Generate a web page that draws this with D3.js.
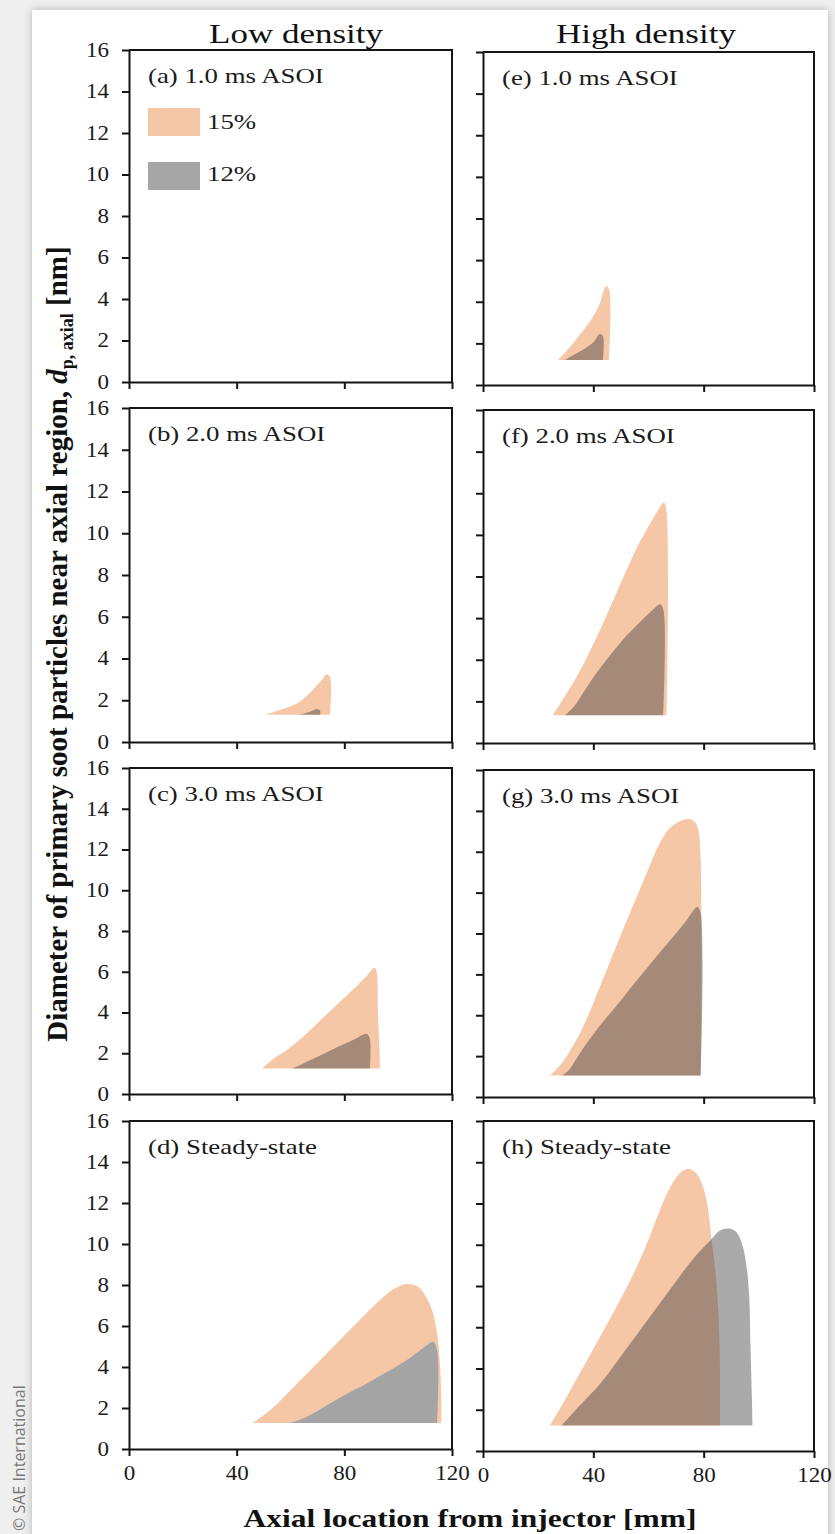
<!DOCTYPE html>
<html>
<head>
<meta charset="utf-8">
<script src="https://cdn.jsdelivr.net/npm/d3@7/dist/d3.min.js"></script>
<style>
  body { margin: 0; background: #efefef; }
  text { font-family: "Liberation Serif", "Times New Roman", serif; }
</style>
</head>
<body>
<svg id="chart" width="835" height="1534"></svg>
<script>
const xTicks = [0, 40, 80, 120]
const yTicks = [0, 2, 4, 6, 8, 10, 12, 14, 16]
const columnTitles = ["Low density", "High density"]
const panelLabels = ["(a) 1.0 ms ASOI", "(b) 2.0 ms ASOI", "(c) 3.0 ms ASOI", "(d) Steady-state",
                     "(e) 1.0 ms ASOI", "(f) 2.0 ms ASOI", "(g) 3.0 ms ASOI", "(h) Steady-state"]
const legendLabels = ["15%", "12%"]

// upper edge of each region, [axial mm, dp nm]; first/last point sit on the base
const lo1_15 = []
const lo1_12 = []
const lo2_15 = [[50.5, 1.3], [54, 1.45], [58, 1.62], [62.8, 1.87], [66, 2.2], [69, 2.6], [71.5, 2.95], [73.5, 3.25], [74.7, 3.1], [74.7, 1.3]]
const lo2_12 = [[62.8, 1.3], [65, 1.36], [67.5, 1.46], [69.8, 1.58], [71, 1.5], [71, 1.3]]
const lo3_15 = [[49.4, 1.25], [52, 1.55], [55, 1.85], [58, 2.1], [61, 2.4], [65, 2.85], [69, 3.35], [73, 3.85], [77, 4.35], [81, 4.85], [85, 5.35], [88, 5.75], [91.2, 6.2], [92, 6.0], [92.5, 4.0], [93.2, 1.6], [93.2, 1.25]]
const lo3_12 = [[60.5, 1.25], [64, 1.45], [68, 1.7], [72, 1.95], [75.8, 2.2], [80, 2.45], [84, 2.7], [88.4, 2.95], [89.5, 2.7], [89.5, 1.25]]
const lo4_15 = [[46, 1.27], [52, 1.85], [58, 2.6], [64, 3.4], [70, 4.2], [76, 5.0], [82, 5.8], [88, 6.6], [94, 7.35], [99, 7.85], [103, 8.05], [107, 7.95], [110, 7.5], [112.5, 6.8], [114.5, 5.6], [115.5, 4.2], [116, 2.5], [116, 1.27]]
const lo4_12 = [[59.8, 1.27], [64, 1.45], [68.5, 1.75], [75, 2.25], [81, 2.7], [87, 3.1], [93, 3.55], [99, 4.0], [105, 4.5], [110, 5.0], [113, 5.23], [114.5, 4.8], [114.5, 1.27]]

const hi1_15 = [[27.2, 1.2], [31, 1.75], [35, 2.4], [39, 3.1], [42, 3.8], [44.6, 4.75], [45.7, 4.6], [45.7, 1.2]]
const hi1_12 = [[29.7, 1.2], [33, 1.45], [37, 1.75], [40, 2.05], [42.4, 2.45], [43.5, 2.35], [43.5, 1.2]]
const hi2_15 = [[25.3, 1.33], [29, 2.1], [34, 3.2], [40, 4.75], [46, 6.5], [52, 8.3], [57, 9.7], [61.5, 10.75], [64, 11.3], [65.6, 11.55], [66.6, 11.0], [66.6, 1.33]]
const hi2_12 = [[29.7, 1.33], [33, 1.75], [36.5, 2.45], [40, 3.15], [46, 4.2], [52, 5.15], [58, 5.95], [62, 6.45], [64.2, 6.67], [65.4, 6.4], [65.4, 1.33]]
const hi3_15 = [[24.3, 1.05], [28, 1.55], [31.5, 2.25], [36, 3.35], [40, 4.6], [46, 6.6], [52, 8.6], [57, 10.2], [61, 11.5], [64, 12.4], [67, 13.05], [70, 13.4], [73, 13.58], [76, 13.55], [77.8, 13.2], [78.8, 12.0], [79, 1.05]]
const hi3_12 = [[28.5, 1.05], [31, 1.3], [34, 1.9], [38, 2.7], [42.4, 3.5], [48, 4.4], [53, 5.25], [58, 6.07], [63, 6.9], [68, 7.7], [73, 8.5], [77.7, 9.3], [78.9, 9.0], [78.9, 1.05]]
const hi4_15 = [[24.3, 1.24], [27, 1.85], [30, 2.55], [35, 3.75], [40, 4.95], [46, 6.4], [52, 7.9], [56, 9.0], [60, 10.25], [63, 11.3], [66.6, 12.45], [70, 13.25], [73, 13.62], [75.5, 13.65], [78, 13.35], [80, 12.7], [81.7, 11.65], [82.9, 10.2], [84, 9.0], [85, 7.5], [85.8, 5.0], [86, 1.24]]
const hi4_12 = [[28.5, 1.24], [35, 2.2], [42.4, 3.25], [50, 4.6], [59.4, 6.3], [66, 7.5], [72, 8.6], [78, 9.6], [82.3, 10.2], [85, 10.6], [87, 10.75], [89.6, 10.78], [92, 10.6], [94, 10.0], [95.5, 9.0], [96.5, 7.5], [97, 5.0], [97.5, 2.5], [97.7, 1.24]]

const panels = [
    { col: 0, row: 0, s15: lo1_15, s12: lo1_12 },
    { col: 0, row: 1, s15: lo2_15, s12: lo2_12 },
    { col: 0, row: 2, s15: lo3_15, s12: lo3_12 },
    { col: 0, row: 3, s15: lo4_15, s12: lo4_12, solidGray: true },
    { col: 1, row: 0, s15: hi1_15, s12: hi1_12 },
    { col: 1, row: 1, s15: hi2_15, s12: hi2_12 },
    { col: 1, row: 2, s15: hi3_15, s12: hi3_12 },
    { col: 1, row: 3, s15: hi4_15, s12: hi4_12 },
]

// layout
const colX = [[129, 452], [483, 814]]
const rowTop = [[50, 408, 768, 1121], [52, 410, 770, 1121]]
const rowBottom = [[382, 742, 1094, 1449], [385, 743, 1097, 1451]]

const peach = "#f6c7a7"
const grayLegend = "#a6a6a6"
const ink = "#151515"

const svg = d3.select("#chart")

// the source picture is a little wider than tall, so the lettering is stretched sideways
function stretch(sel, sx) {
    sel.each(function () {
        const t = d3.select(this)
        const x = +t.attr("x") || 0
        t.attr("x", x / sx).attr("transform", `scale(${sx},1)`)
    })
    return sel
}

// page frame with soft shadow
const defs = svg.append("defs")
const f = defs.append("filter").attr("id", "shadow").attr("x", "-5%").attr("y", "-5%").attr("width", "110%").attr("height", "110%")
f.append("feGaussianBlur").attr("in", "SourceAlpha").attr("stdDeviation", 4)
f.append("feComponentTransfer").append("feFuncA").attr("type", "linear").attr("slope", 0.25)
const fm = f.append("feMerge")
fm.append("feMergeNode")
fm.append("feMergeNode").attr("in", "SourceGraphic")

svg.append("rect").attr("width", 835).attr("height", 1534).attr("fill", "#efefef")
svg.append("rect").attr("x", 32).attr("y", 10).attr("width", 796).attr("height", 1540)
    .attr("fill", "#fff").attr("filter", "url(#shadow)")

panels.forEach((p, i) => {
    const x = d3.scaleLinear().domain([0, 120]).range(colX[p.col])
    const y = d3.scaleLinear().domain([0, 16]).range([rowBottom[p.col][p.row], rowTop[p.col][p.row]])
    const g = svg.append("g")

    const drawRegion = (pts, fill, opacity) => {
        if (!pts.length) return
        const base = pts[0][1]
        const area = d3.area()
            .x(d => x(d[0]))
            .y0(y(base))
            .y1(d => y(d[1]))
            .curve(d3.curveCatmullRom.alpha(0.5))
        g.append("path").datum(pts).attr("d", area)
            .attr("fill", fill).attr("fill-opacity", opacity)
    }
    drawRegion(p.s15, peach, 1)
    if (p.solidGray) drawRegion(p.s12, "#a4a4a4", 1)
    else drawRegion(p.s12, "rgb(60,58,60)", 0.43)

    // axes
    const yAxis = g.append("g")
        .attr("transform", `translate(${x(0)},0)`)
        .call(d3.axisLeft(y).tickValues(yTicks).tickSize(7).tickSizeOuter(0).tickPadding(13)
            .tickFormat(p.col === 0 ? d => d : ""))
    const xAxis = g.append("g")
        .attr("transform", `translate(0,${y(0)})`)
        .call(d3.axisBottom(x).tickValues(xTicks).tickSize(7).tickSizeOuter(0).tickPadding(10)
            .tickFormat(p.row === 3 ? d => d : ""))
    ;[yAxis, xAxis].forEach(a => {
        a.selectAll(".domain, line").attr("stroke", ink).attr("stroke-width", 2)
        stretch(a.selectAll("text").attr("fill", "#1a1a1a").style("font-size", "20px")
            .style("font-family", '"Liberation Serif", "Times New Roman", serif'), 1.15)
    })
    // box top and right
    g.append("path")
        .attr("d", `M${x(0)},${y(16)}H${x(120)}V${y(0)}`)
        .attr("fill", "none").attr("stroke", ink).attr("stroke-width", 2)

    stretch(g.append("text")
        .attr("x", x(0) + 19).attr("y", y(16) + 33)
        .style("font-size", "22px").attr("fill", "#1a1a1a")
        .text(panelLabels[i]), 1.22)

    if (i === 0) {
        const lg = [peach, grayLegend]
        lg.forEach((c, k) => {
            g.append("rect")
                .attr("x", x(0) + 19).attr("y", y(16) + 58 + k * 54)
                .attr("width", 52).attr("height", 28).attr("fill", c)
            stretch(g.append("text")
                .attr("x", x(0) + 78).attr("y", y(16) + 79 + k * 52)
                .style("font-size", "22px").attr("fill", "#1a1a1a")
                .text(legendLabels[k]), 1.22)
        })
    }
})

// column titles
columnTitles.forEach((t, k) => {
    stretch(svg.append("text")
        .attr("x", [296, 646][k]).attr("y", 43)
        .attr("text-anchor", "middle")
        .style("font-size", "28px").attr("fill", "#111")
        .text(t), 1.25)
})

// axis titles
stretch(svg.append("text")
    .attr("x", 470).attr("y", 1527)
    .attr("text-anchor", "middle")
    .style("font-size", "26px").style("font-weight", "bold").attr("fill", "#111")
    .text("Axial location from injector [mm]"), 1.21)

const yl = svg.append("text")
    .attr("transform", "translate(67,644) rotate(-90)")
    .attr("text-anchor", "middle")
    .style("font-size", "29px").style("font-weight", "bold").attr("fill", "#111")
yl.append("tspan").text("Diameter of primary soot particles near axial region, ")
yl.append("tspan").style("font-style", "italic").text("d")
yl.append("tspan").attr("dy", 6).style("font-size", "18px").text("p, axial")
yl.append("tspan").attr("dy", -6).text(" [nm]")

svg.append("text")
    .attr("transform", "translate(25,1531) rotate(-90)")
    .style("font-family", '"Open Sans", sans-serif')
    .style("font-size", "16px").attr("fill", "#777")
    .text("© SAE International")
</script>
</body>
</html>
